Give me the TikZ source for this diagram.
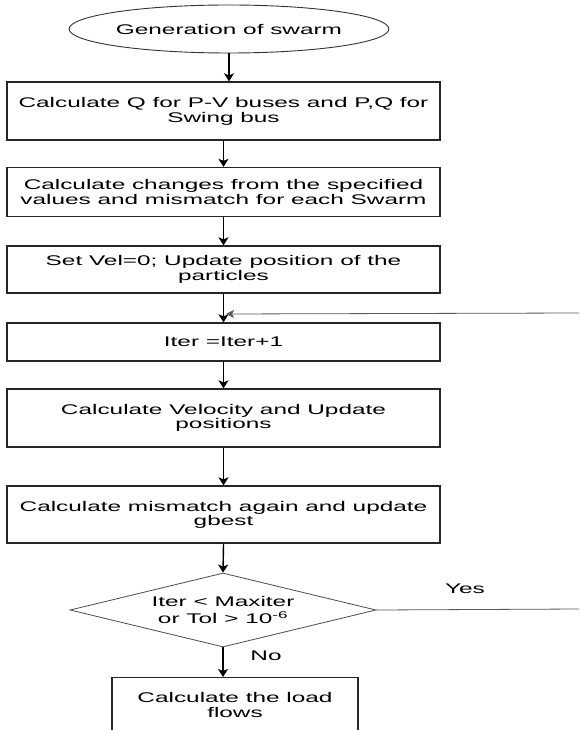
\documentclass[tikz,border=0pt]{standalone}
\usepackage{fontspec}
\setmainfont{Liberation Sans}[FakeStretch=1.74]
\usetikzlibrary{shapes.geometric,arrows.meta}
\begin{document}
\begin{tikzpicture}[x=1pt,y=-1pt,
  txt/.style={font=\fontsize{14}{15}\selectfont},
  box/.style={draw=black!85,line width=1.3pt,minimum width=433pt,align=center,inner sep=0pt,txt},
  arr/.style={-{Stealth[length=8pt,width=10pt,inset=2pt]},line width=1.4pt},
  fb/.style={-{Stealth[length=8pt,width=8pt,inset=2pt]},line width=0.8pt,draw=black!65}]
\useasboundingbox[fill=white] (0,0) rectangle (579,730);
\node[draw=black!80,ellipse,line width=0.9pt,minimum width=257pt,minimum height=48pt,inner sep=0pt,txt] (gen) at (229,29) {Generation of swarm};
\node[box,minimum height=58pt] (b1) at (223.5,111) {Calculate Q for P-V buses and P,Q for\\Swing bus};
\node[box,minimum height=49pt] (b2) at (223.5,192) {Calculate changes from the specified\\values and mismatch for each Swarm};
\node[box,minimum height=47pt] (b3) at (223.5,269.5) {Set Vel=0; Update position of the\\particles};
\node[box,minimum height=38pt] (b4) at (223.5,342) {Iter =Iter+1};
\node[box,minimum height=58pt,font=\fontsize{14}{13}\selectfont] (b5) at (223.5,418) {Calculate Velocity and Update\\positions};
\node[box,minimum height=57pt,font=\fontsize{14}{13}\selectfont] (b6) at (223.5,514.5) {Calculate mismatch again and update\\gbest};
\node[draw=black!70,diamond,aspect=4.1,minimum width=306pt,minimum height=74pt,inner sep=0pt,line width=0.8pt,align=center,font=\fontsize{14}{17}\selectfont] (dia) at (223,610) {Iter < Maxiter\\or Tol > 10\textsuperscript{-6}};
\node[box,minimum width=246pt,minimum height=55pt,anchor=north] (b7) at (235,677) {Calculate the load\\flows};
\node[txt] (yes) at (465,589) {Yes};
\node[txt] (no) at (266,656) {No};
\coordinate (loopin) at (579,313);
\coordinate (join) at (226,314);
\coordinate (yesend) at (579,609);
\draw[arr] (gen.south) -- (gen.south |- b1.north);
\draw[arr] (b1.south) -- (b2.north);
\draw[arr] (b2.south) -- (b3.north);
\draw[arr] (b3.south) -- (b4.north);
\draw[arr] (b4.south) -- (b5.north);
\draw[arr] (b5.south) -- (b6.north);
\draw[arr] (b6.south) -- (dia.north);
\draw[arr] (dia.south) -- (dia.south |- b7.north);
\draw[fb] (loopin) -- (join);
\draw[line width=0.8pt,draw=black!65] (dia.east) -- (yesend);
\end{tikzpicture}
\end{document}
